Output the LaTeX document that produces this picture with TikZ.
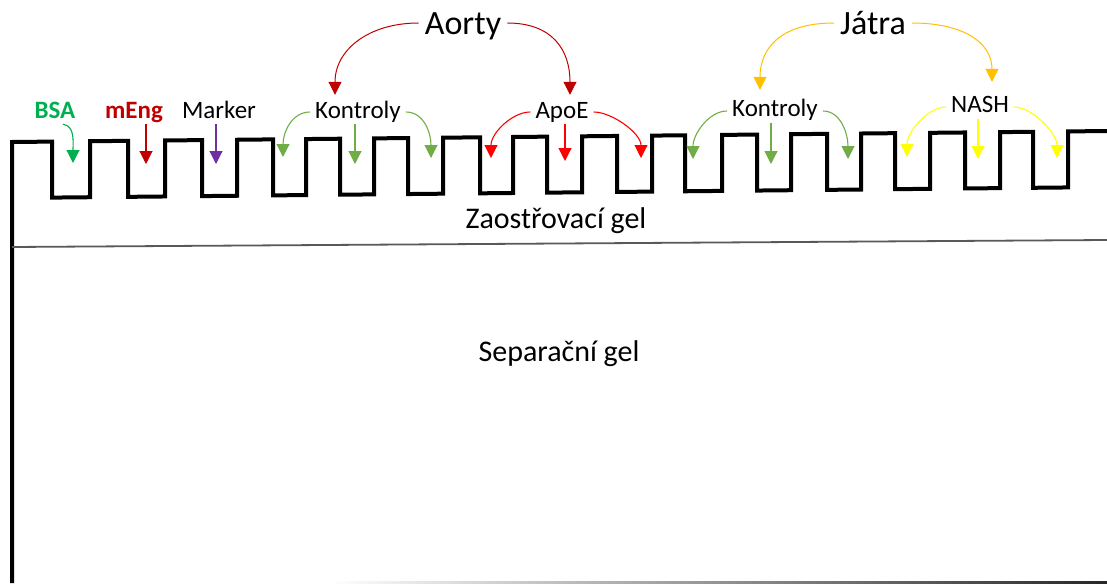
\documentclass[tikz,border=0pt]{standalone}
\usepackage{fontspec}
\setmainfont{Carlito}
\usetikzlibrary{arrows.meta}
\definecolor{bsagreen}{HTML}{00B050}
\definecolor{darkred}{HTML}{C00000}
\definecolor{markerpurple}{HTML}{7030A0}
\definecolor{ctrlgreen}{HTML}{70AD47}
\definecolor{apoered}{HTML}{FF0000}
\definecolor{nashyellow}{HTML}{FFFF00}
\definecolor{liverorange}{HTML}{FFC000}

\begin{document}
\begin{tikzpicture}[x=1pt,y=-1pt,
  lbl/.style={font=\fontsize{25}{30}\selectfont,inner xsep=5pt,inner ysep=1pt,text height=17pt,text depth=5pt,anchor=base},
  big/.style={font=\fontsize{34}{40}\selectfont,inner xsep=6pt,inner ysep=1pt,text height=24pt,text depth=0pt,anchor=base},
  gel/.style={font=\fontsize{30}{36}\selectfont,anchor=base},
  comb/.style={line width=4pt},
  arr/.style={line width=1.1pt,-{Triangle[length=13pt,width=13pt]}}]
  \useasboundingbox (0,0) rectangle (1107,583);

  \draw[comb] (12,583) -- (12,142)
    \foreach \a/\b in {52/90,128/165,202/237,273/306,340/374,408/443,480/513,547/582,617/652,685/722,757/791,827/861,895/930,965/1000,1033/1068} {
      -- (\a,{142-0.01*(\a-12)}) -- (\a,{198-0.01*(\a-12)})
      -- (\b,{198-0.01*(\b-12)}) -- (\b,{142-0.01*(\b-12)})
    }
    -- (1107,131);
  \draw[line width=1.8pt,black!65] (12,247) -- (1107,240);
  \shade[left color=white,right color=black!85] (330,581) rectangle (1107,583);

  \node[gel] (zaostr) at (556,228) {Zaostřovací gel};
  \node[gel] (separ) at (559,361) {Separační gel};

  \node[big] (aorty) at (463,35) {Aorty};
  \node[big] (jatra) at (873,35) {Játra};
  \node[lbl,text=bsagreen,font=\fontsize{25}{30}\selectfont\bfseries] (bsa) at (55,118) {BSA};
  \node[lbl,text=darkred,font=\fontsize{25}{30}\selectfont\bfseries] (meng) at (134,118) {mEng};
  \node[lbl] (marker) at (219,118) {Marker};
  \node[lbl] (kontA) at (358,118) {Kontroly};
  \node[lbl] (apoe) at (562,118) {ApoE};
  \node[lbl] (kontB) at (775,117) {Kontroly};
  \node[lbl] (nash) at (980,113) {NASH};

  \foreach \px/\py [count=\i] in {73/163,146/164,216/164,283/157,355/164,431/158,491/158,565/161,641/158,693/159,771/164,848/159,907/157,978/159,1057/158}
    \coordinate (slot\i) at (\px,\py);

  \draw[arr,bsagreen] ([xshift=8pt]bsa.south) .. controls +(12,2) and +(0,-22) .. (slot1);
  \draw[arr,darkred] (meng.south -| slot2) -- (slot2);
  \draw[arr,markerpurple] (marker.south -| slot3) -- (slot3);

  \draw[arr,ctrlgreen] (kontA.west) .. controls +(-18,0) and +(0,-25) .. (slot4);
  \draw[arr,ctrlgreen] (kontA.south -| slot5) -- (slot5);
  \draw[arr,ctrlgreen] (kontA.east) .. controls +(18,0) and +(0,-25) .. (slot6);

  \draw[arr,apoered] (apoe.west) .. controls +(-18,0) and +(0,-25) .. (slot7);
  \draw[arr,apoered] (apoe.south -| slot8) -- (slot8);
  \draw[arr,apoered] (apoe.east) .. controls +(18,0) and +(0,-25) .. (slot9);

  \draw[arr,ctrlgreen] (kontB.west) .. controls +(-18,0) and +(0,-25) .. (slot10);
  \draw[arr,ctrlgreen] (kontB.south -| slot11) -- (slot11);
  \draw[arr,ctrlgreen] (kontB.east) .. controls +(18,0) and +(0,-25) .. (slot12);

  \draw[arr,nashyellow] (nash.west) .. controls +(-18,0) and +(0,-25) .. (slot13);
  \draw[arr,nashyellow] (nash.south -| slot14) -- (slot14);
  \draw[arr,nashyellow] (nash.east) .. controls +(18,0) and +(0,-25) .. (slot15);

  \draw[arr,darkred,line width=1pt] (aorty.west) .. controls +(-50,0) and +(0,-45) .. ([xshift=-23pt,yshift=5pt]kontA.north);
  \draw[arr,darkred,line width=1pt] (aorty.east) .. controls +(45,0) and +(0,-45) .. ([xshift=8pt,yshift=5pt]apoe.north);
  \draw[arr,liverorange,line width=1pt] (jatra.west) .. controls +(-55,0) and +(0,-40) .. ([xshift=-15pt,yshift=9pt]kontB.north);
  \draw[arr,liverorange,line width=1pt] (jatra.east) .. controls +(50,0) and +(0,-40) .. ([xshift=12pt,yshift=13pt]nash.north);
\end{tikzpicture}
\end{document}
